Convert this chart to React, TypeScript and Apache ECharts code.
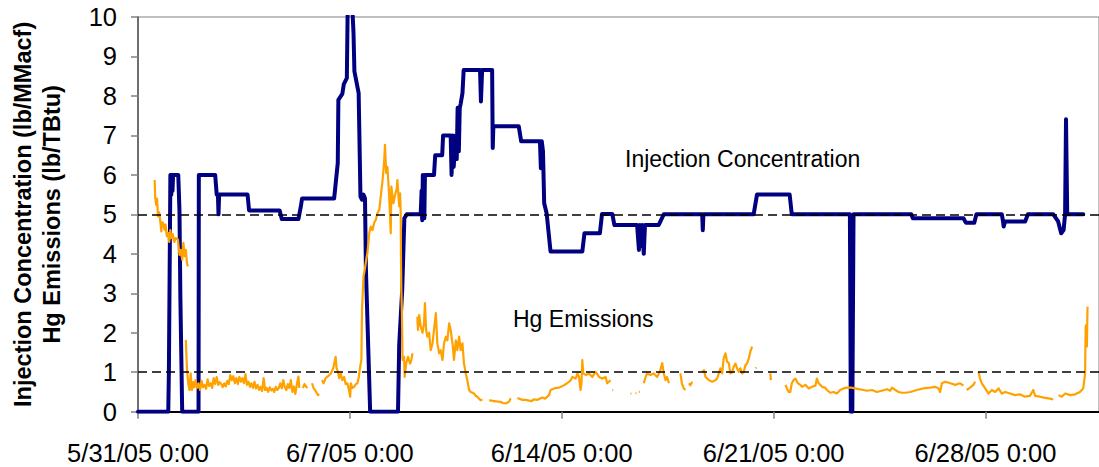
import React, { useEffect, useRef } from "react";
import * as echarts from "echarts";

// Time is measured in days from 5/31/05 0:00.
const xTickLabels = ["5/31/05 0:00", "6/7/05 0:00", "6/14/05 0:00", "6/21/05 0:00", "6/28/05 0:00"];
const xMaxDays = 31.75;

// Reference levels (dashed lines)
const injectionTarget = 5;
const emissionTarget = 1;

// Injection Concentration (lb/MMacf): [day, value]
const injectionConcentration: [number, number][] = [
  [0, 0], [1.0, 0], [1.02, 1.0], [1.07, 6.0], [1.1, 5.5], [1.12, 6.0], [1.14, 5.6], [1.16, 6.0],
  [1.33, 6.0], [1.37, 5.1], [1.4, 2.9], [1.46, 0], [2.0, 0], [2.01, 6.0], [2.55, 6.0], [2.6, 5.5],
  [2.64, 5.5], [2.66, 5.0], [2.68, 5.5], [3.62, 5.5], [3.67, 5.1], [4.68, 5.1], [4.75, 4.88],
  [5.3, 4.88], [5.38, 5.2], [5.42, 5.4], [6.48, 5.4], [6.52, 5.7], [6.6, 6.3], [6.62, 7.9],
  [6.75, 8.05], [6.8, 8.3], [6.9, 8.45], [6.93, 10.4], [7.07, 10.4], [7.12, 9.6], [7.15, 8.62],
  [7.29, 8.07], [7.35, 5.45], [7.4, 5.37], [7.45, 5.5], [7.5, 5.4], [7.53, 3.6], [7.67, 0],
  [8.59, 0], [8.63, 1.7], [8.73, 3.1], [8.8, 4.9], [8.88, 5.0], [9.34, 5.0], [9.37, 5.6],
  [9.39, 4.85], [9.41, 6.0], [9.46, 4.9], [9.48, 6.0], [9.78, 6.0], [9.82, 6.5], [10.05, 6.5],
  [10.08, 7.0], [10.33, 7.0], [10.36, 6.0], [10.4, 7.0], [10.43, 6.2], [10.5, 7.0], [10.53, 6.4],
  [10.56, 7.7], [10.6, 6.6], [10.63, 7.7], [10.66, 7.8], [10.72, 8.07], [10.76, 8.66],
  [11.3, 8.66], [11.33, 7.86], [11.37, 8.66], [11.7, 8.66], [11.72, 6.68], [11.74, 7.23],
  [12.58, 7.23], [12.66, 6.85], [13.28, 6.85], [13.31, 6.17], [13.34, 6.85], [13.38, 6.6],
  [13.42, 5.28], [13.5, 5.03], [13.63, 4.06], [14.68, 4.06], [14.75, 4.52], [15.26, 4.52],
  [15.33, 5.01], [15.67, 5.01], [15.74, 4.73], [16.49, 4.73], [16.55, 4.1], [16.58, 4.73],
  [16.62, 4.2], [16.66, 4.73], [16.71, 4.0], [16.75, 4.73], [17.2, 4.73], [17.37, 5.0],
  [18.64, 5.0], [18.66, 4.6], [18.68, 5.0], [20.34, 5.0], [20.45, 5.5], [21.53, 5.5],
  [21.6, 5.0], [23.52, 5.0], [23.55, 0], [23.6, 0], [23.64, 5.0], [25.55, 5.0], [25.6, 4.9],
  [27.27, 4.9], [27.35, 4.79], [27.63, 4.79], [27.7, 5.0], [28.54, 5.0], [28.58, 4.82],
  [28.6, 4.69], [28.65, 4.82], [29.31, 4.82], [29.4, 5.0], [30.24, 5.0], [30.4, 4.82],
  [30.5, 4.52], [30.58, 4.6], [30.63, 5.0], [30.66, 7.41], [30.7, 5.0], [31.23, 5.0],
];

// Hg Emissions (lb/TBtu): [day, value]; null marks a break in the record
const hgEmissions: [number, number | null][] = [
  [0.55, 5.87], [0.57, 5.41], [0.6, 5.24], [0.63, 5.4], [0.66, 4.95], [0.7, 5.05], [0.73, 4.87],
  [0.77, 4.57], [0.8, 4.8], [0.83, 4.78], [0.88, 4.61], [0.91, 4.74], [0.95, 4.45], [0.99, 4.53],
  [1.03, 4.3], [1.07, 4.6], [1.1, 4.4], [1.15, 4.5], [1.2, 4.3], [1.25, 4.4], [1.32, 4.36],
  [1.37, 3.97], [1.41, 4.1], [1.46, 3.85], [1.5, 4.28], [1.54, 3.94], [1.58, 4.1], [1.62, 3.75],
  [1.65, 3.68], [1.655, null],
  [1.58, 1.82], [1.6, 1.4], [1.62, 1.06], [1.66, 0.72], [1.7, 0.55], [1.74, 0.97], [1.78, 0.55],
  [1.82, 0.75], [1.86, 0.62], [1.9, 0.8], [1.95, 0.6], [2.0, 0.72], [2.05, 0.55], [2.1, 0.78],
  [2.15, 0.62], [2.2, 0.68], [2.25, 0.58], [2.3, 0.82], [2.35, 0.65], [2.4, 0.72], [2.45, 0.6],
  [2.5, 0.85], [2.55, 0.7], [2.6, 0.88], [2.65, 0.68], [2.7, 0.75], [2.75, 0.7], [2.8, 0.62],
  [2.85, 0.72], [2.9, 0.64], [2.95, 0.78], [3.0, 0.7], [3.05, 0.93], [3.1, 0.8], [3.15, 0.9],
  [3.2, 0.72], [3.25, 0.85], [3.3, 0.7], [3.35, 0.88], [3.4, 0.76], [3.45, 0.85], [3.5, 0.72],
  [3.55, 0.95], [3.6, 0.68], [3.65, 0.76], [3.7, 0.63], [3.75, 0.72], [3.8, 0.6], [3.85, 0.76],
  [3.9, 0.59], [3.95, 0.68], [4.0, 0.55], [4.05, 0.63], [4.1, 0.52], [4.15, 0.85], [4.2, 0.55],
  [4.25, 0.6], [4.3, 0.5], [4.35, 0.62], [4.4, 0.54], [4.45, 0.58], [4.5, 0.5], [4.55, 0.63],
  [4.6, 0.55], [4.65, 0.6], [4.7, 0.72], [4.75, 0.59], [4.8, 0.8], [4.85, 0.62], [4.9, 0.55],
  [4.95, 0.7], [5.0, 0.6], [5.05, 0.8], [5.1, 0.5], [5.15, 0.64], [5.2, 0.45], [5.25, 0.7],
  [5.3, 0.89], [5.33, 0.6], [5.35, null],
  [5.45, 0.6], [5.5, 0.7], [5.55, 0.64], [5.6, 0.6], [5.62, null],
  [5.75, 0.72], [5.8, 0.6], [5.85, 0.55], [5.9, 0.48], [5.95, 0.42], [5.98, 0.45], [6.0, null],
  [6.08, 0.8], [6.13, 0.72], [6.2, 0.85], [6.28, 0.9], [6.37, 0.97], [6.45, 1.1], [6.53, 1.39],
  [6.56, 1.1], [6.59, 1.05], [6.65, 0.85], [6.7, 0.97], [6.75, 0.8], [6.81, 0.88], [6.86, 0.7],
  [6.92, 0.72], [6.97, 0.55], [7.01, 0.38], [7.03, 0.72], [7.08, 0.6], [7.14, 0.63], [7.2, 0.7],
  [7.25, 0.72], [7.3, 0.9], [7.34, 1.14], [7.38, 1.31], [7.4, 2.58], [7.45, 3.42], [7.49, 3.59],
  [7.55, 3.9], [7.58, 4.02], [7.64, 4.52], [7.69, 4.69], [7.75, 4.6], [7.8, 4.78], [7.86, 4.87],
  [7.91, 5.03], [7.97, 5.11], [8.02, 5.45], [8.08, 5.87], [8.13, 6.3], [8.16, 6.76], [8.2, 6.05],
  [8.24, 6.2], [8.3, 5.45], [8.35, 4.52], [8.37, 5.7], [8.44, 5.28], [8.48, 5.45], [8.55, 5.66],
  [8.57, 5.87], [8.63, 5.2], [8.66, 5.53], [8.68, 5.03], [8.69, 3.76], [8.7, 3.09], [8.72, 2.5],
  [8.74, 1.31], [8.79, 1.39], [8.81, 0.88], [8.86, 1.22], [8.92, 1.39], [8.99, 1.22], [9.03, 1.31],
  [9.07, 1.48], [9.1, null],
  [9.23, 2.41], [9.25, 2.07], [9.29, 2.45], [9.34, 2.16], [9.4, 2.0], [9.45, 2.24], [9.48, 2.75],
  [9.52, 2.07], [9.56, 1.9], [9.62, 2.0], [9.67, 1.56], [9.73, 1.73], [9.78, 2.07], [9.84, 2.5],
  [9.89, 1.73], [9.95, 1.48], [10.0, 1.56], [10.06, 1.31], [10.11, 1.73], [10.17, 1.9],
  [10.22, 1.81], [10.28, 2.24], [10.33, 2.07], [10.39, 1.73], [10.44, 1.31], [10.5, 1.81],
  [10.55, 1.56], [10.61, 1.9], [10.66, 1.56], [10.72, 1.73], [10.77, 1.22], [10.83, 0.97],
  [10.88, 0.8], [10.94, 0.55], [10.99, 0.5], [11.05, 0.48], [11.1, 0.46], [11.16, 0.4],
  [11.21, 0.38], [11.27, 0.33], [11.32, 0.29], [11.38, 0.31], [11.4, null],
  [11.6, 0.29], [11.68, 0.28], [11.76, 0.27], [11.85, 0.26], [11.98, 0.25], [12.05, 0.22],
  [12.15, 0.21], [12.26, 0.25], [12.31, 0.34], [12.35, null],
  [12.53, 0.34], [12.6, 0.33], [12.7, 0.3], [12.81, 0.3], [12.92, 0.28], [13.0, 0.27],
  [13.08, 0.31], [13.2, 0.3], [13.36, 0.36], [13.45, 0.33], [13.58, 0.42], [13.63, 0.55],
  [13.75, 0.59], [13.91, 0.61], [14.05, 0.66], [14.18, 0.72], [14.3, 0.8], [14.35, 0.88],
  [14.46, 0.84], [14.52, 0.97], [14.57, 0.88], [14.62, 0.55], [14.65, 0.7], [14.68, 1.31],
  [14.71, 0.97], [14.8, 0.93], [14.9, 0.97], [15.01, 0.88], [15.12, 1.01], [15.23, 0.88],
  [15.34, 0.84], [15.45, 0.88], [15.5, 0.72], [15.56, 0.76], [15.61, 0.8], [15.63, null],
  [15.67, 0.55], [15.7, 0.55], [15.72, null],
  [16.27, 0.46], [16.3, 0.46], [16.32, null],
  [16.44, 0.47], [16.47, 0.47], [16.49, null],
  [16.55, 0.5], [16.58, 0.5], [16.6, null],
  [16.71, 0.72], [16.77, 0.88], [16.82, 0.97], [16.93, 0.93], [17.04, 0.97], [17.15, 0.88],
  [17.24, 1.01], [17.32, 1.23], [17.37, 0.97], [17.43, 0.8], [17.48, 0.88], [17.54, 0.72],
  [17.56, null],
  [17.92, 0.97], [17.97, 0.72], [18.03, 0.59], [18.09, 0.55], [18.11, null],
  [18.2, 0.72], [18.25, 0.67], [18.31, 0.76], [18.33, null],
  [18.64, 1.01], [18.7, 1.05], [18.75, 0.88], [18.86, 0.8], [18.97, 0.76], [19.08, 0.8],
  [19.13, 0.84], [19.19, 0.97], [19.24, 1.1], [19.3, 0.97], [19.35, 1.35], [19.41, 1.48],
  [19.46, 1.27], [19.52, 1.23], [19.57, 0.97], [19.63, 1.0], [19.68, 1.14], [19.74, 1.22],
  [19.79, 1.1], [19.85, 1.01], [19.9, 1.1], [19.96, 0.97], [20.01, 1.0], [20.07, 1.18],
  [20.12, 1.22], [20.18, 1.35], [20.23, 1.52], [20.29, 1.65], [20.31, null],
  [20.4, 1.1], [20.43, 1.12], [20.45, null],
  [20.89, 0.97], [20.91, 0.8], [20.93, null],
  [21.39, 0.68], [21.44, 0.59], [21.5, 0.5], [21.55, 0.5], [21.6, 0.72], [21.66, 0.8],
  [21.72, 0.84], [21.8, 0.72], [21.88, 0.68], [21.94, 0.63], [22.05, 0.68], [22.16, 0.59],
  [22.27, 0.63], [22.38, 0.66], [22.43, 0.84], [22.49, 0.72], [22.6, 0.63], [22.7, 0.61],
  [22.76, 0.55], [22.87, 0.48], [22.98, 0.5], [23.09, 0.46], [23.2, 0.55], [23.31, 0.59],
  [23.42, 0.61], [23.56, 0.61], [23.7, 0.59], [23.81, 0.57], [23.97, 0.55], [24.08, 0.53],
  [24.25, 0.55], [24.41, 0.5], [24.57, 0.53], [24.74, 0.57], [24.85, 0.53], [24.91, 0.61],
  [25.02, 0.55], [25.13, 0.5], [25.24, 0.48], [25.35, 0.48], [25.52, 0.5], [25.73, 0.55],
  [25.95, 0.59], [26.17, 0.61], [26.34, 0.63], [26.45, 0.59], [26.5, 0.5], [26.56, 0.72],
  [26.67, 0.76], [26.84, 0.72], [27.0, 0.68], [27.16, 0.72], [27.27, 0.66], [27.3, null],
  [27.38, 0.55], [27.49, 0.61], [27.6, 0.68], [27.66, 0.76], [27.7, null],
  [27.77, 1.01], [27.82, 0.84], [27.88, 0.72], [27.99, 0.59], [28.1, 0.46], [28.21, 0.55],
  [28.32, 0.5], [28.43, 0.59], [28.54, 0.46], [28.65, 0.5], [28.81, 0.46], [28.97, 0.42],
  [29.14, 0.44], [29.3, 0.38], [29.47, 0.4], [29.58, 0.55], [29.64, 0.4], [29.8, 0.38],
  [29.97, 0.35], [30.13, 0.33], [30.24, 0.31], [30.3, null],
  [30.41, 0.42], [30.52, 0.38], [30.63, 0.46], [30.8, 0.42], [30.96, 0.44], [31.12, 0.5],
  [31.23, 0.59], [31.29, 0.97], [31.31, 2.16], [31.33, 2.2], [31.35, 1.65], [31.37, 2.66],
  [31.38, 2.66],
];

const FONT = "'Liberation Sans', Arial, Helvetica, sans-serif";
const NAVY = "#000080";
const ORANGE = "#FFA200";

export default function App() {
  const ref = useRef<HTMLDivElement>(null);

  useEffect(() => {
    if (!ref.current) return;
    const chart = echarts.init(ref.current, null, { renderer: "svg" });

    const option = {
      animation: false,
      backgroundColor: "#ffffff",
      grid: {
        left: 137,
        top: 17,
        right: 0,
        bottom: 55.3,
        show: true,
        borderColor: "#808080",
        borderWidth: 1,
        backgroundColor: "transparent",
      },
      xAxis: {
        type: "value",
        min: 0,
        max: xMaxDays,
        interval: 7,
        axisLine: { show: true, lineStyle: { color: "#000", width: 2 } },
        axisTick: { show: true, length: 7, lineStyle: { color: "#808080", width: 1.5 } },
        splitLine: { show: false },
        axisLabel: {
          margin: 28,
          fontSize: 25.5,
          fontFamily: FONT,
          color: "#000",
          showMaxLabel: false,
          formatter: (v: number) => {
            const i = Math.round(v / 7);
            return Math.abs(v - i * 7) < 1e-6 && xTickLabels[i] ? xTickLabels[i] : "";
          },
        },
      },
      yAxis: {
        type: "value",
        min: 0,
        max: 10,
        interval: 1,
        name: "Injection Concentration (lb/MMacf)\nHg Emissions (lb/TBtu)",
        nameLocation: "middle",
        nameRotate: 90,
        nameGap: 72,
        nameTextStyle: {
          fontSize: 23.5,
          fontWeight: "bold",
          fontFamily: FONT,
          color: "#000",
          lineHeight: 29,
        },
        axisLine: { show: true, lineStyle: { color: "#555", width: 1.5 } },
        axisTick: { show: true, length: 7, lineStyle: { color: "#808080", width: 1.5 } },
        splitLine: { show: false },
        axisLabel: { margin: 21, fontSize: 25.5, fontFamily: FONT, color: "#000" },
      },
      graphic: [
        {
          type: "text",
          x: 625,
          y: 159,
          silent: true,
          style: {
            text: "Injection Concentration",
            fontSize: 23,
            fontFamily: FONT,
            fill: "#000",
            textAlign: "left",
            textVerticalAlign: "middle",
          },
        },
        {
          type: "text",
          x: 513,
          y: 319,
          silent: true,
          style: {
            text: "Hg Emissions",
            fontSize: 23,
            fontFamily: FONT,
            fill: "#000",
            textAlign: "left",
            textVerticalAlign: "middle",
          },
        },
      ],
      series: [
        {
          name: "Injection Concentration",
          type: "line",
          data: injectionConcentration,
          showSymbol: false,
          symbol: "none",
          clip: true,
          lineStyle: { color: NAVY, width: 4, cap: "round", join: "round" },
          markLine: {
            silent: true,
            symbol: ["none", "none"],
            label: { show: false },
            lineStyle: { color: "#000", width: 1.5, type: [9, 5] },
            data: [{ yAxis: injectionTarget }, { yAxis: emissionTarget }],
          },
          z: 2,
        },
        {
          name: "Hg Emissions",
          type: "line",
          data: hgEmissions.map(([d, v]) => [d, v === null ? "-" : v]),
          showSymbol: false,
          symbol: "none",
          connectNulls: false,
          clip: true,
          lineStyle: { color: ORANGE, width: 2.2, join: "round" },
          z: 3,
        },
      ],
    };

    chart.setOption(option as any);
    return () => chart.dispose();
  }, []);

  return (
    <div
      ref={ref}
      style={{ position: "absolute", left: 0, top: 0, width: 1099, height: 467 }}
    />
  );
}
